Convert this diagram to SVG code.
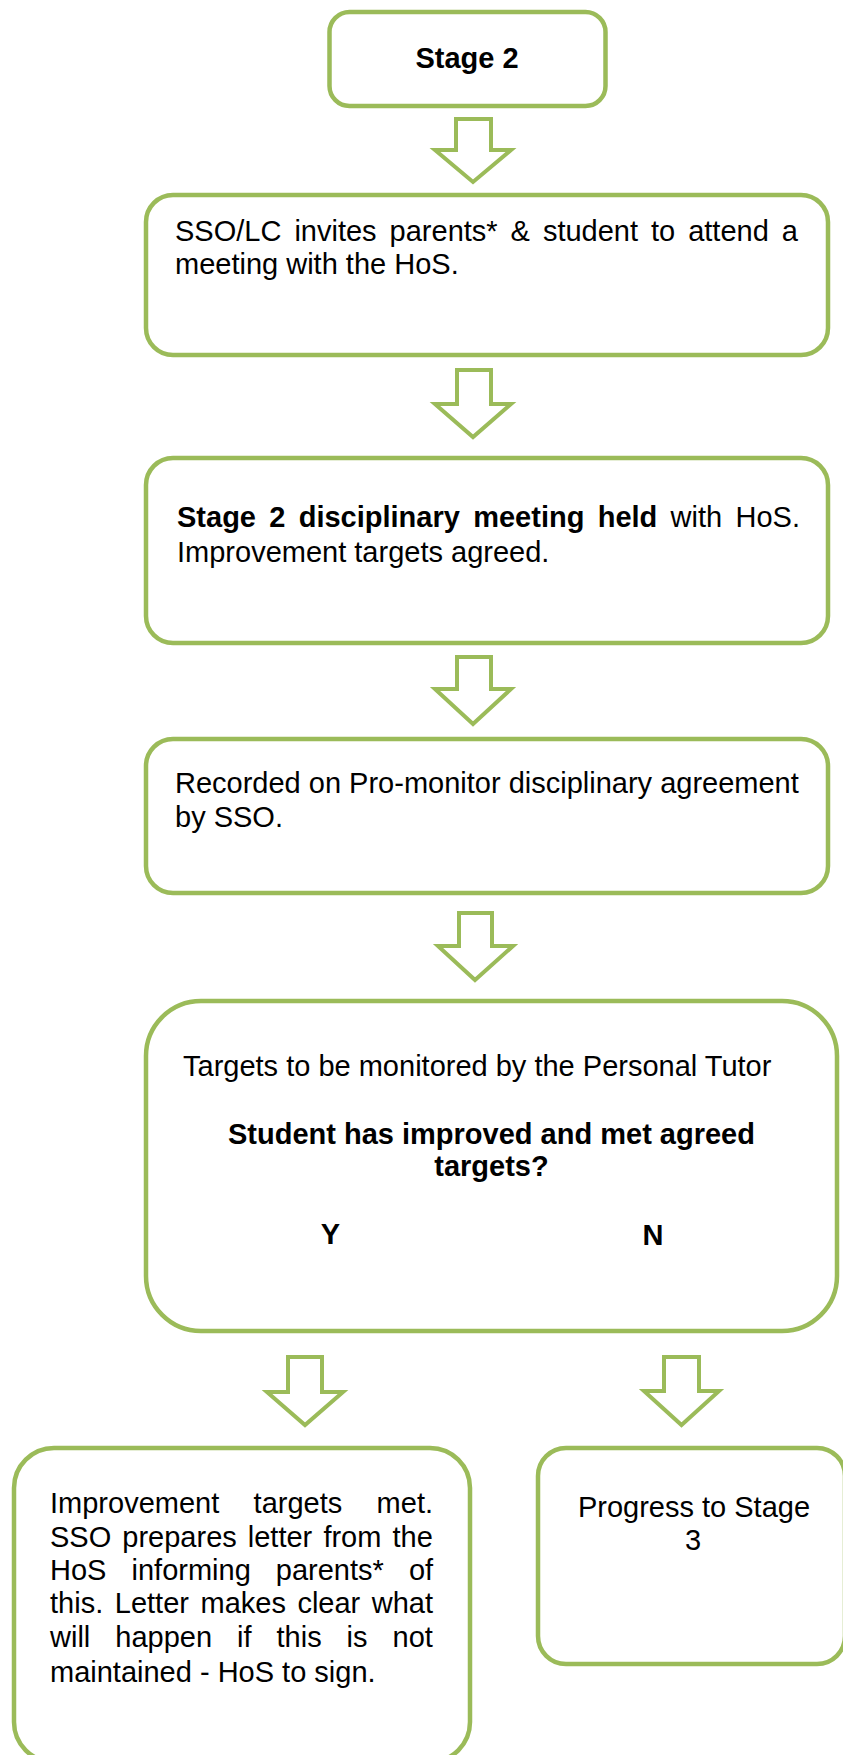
<svg xmlns="http://www.w3.org/2000/svg" width="843" height="1755" viewBox="0 0 843 1755">
<style>
.box{fill:#ffffff;stroke:#9BBB59;stroke-width:4.5}
.arrow{fill:#ffffff;stroke:#9BBB59;stroke-width:4;stroke-linejoin:miter}
text{font-family:"Liberation Sans",Arial,Helvetica,sans-serif;font-size:29px;fill:#000000}
.b{font-weight:bold}
.c{text-anchor:middle}
</style>
<rect width="843" height="1755" fill="#ffffff"/>
<g id="connectors">
<path class="arrow" d="M456,119 H491 V150 H511 L473,182 L435,150 H456 Z"/>
<path class="arrow" d="M457,370 H491 V404 H511 L473,437 L435,404 H457 Z"/>
<path class="arrow" d="M457,657 H491 V689 H511 L473,724 L435,689 H457 Z"/>
<path class="arrow" d="M459,913 H492 V946 H513 L475,980 L438,946 H459 Z"/>
<path class="arrow" d="M288,1357 H322 V1392 H343 L305,1425 L267,1392 H288 Z"/>
<path class="arrow" d="M664,1357 H699 V1391 H719 L681.5,1425 L644,1391 H664 Z"/>
</g>
<g id="stage2">
<rect class="box" x="329.5" y="12" width="276" height="94" rx="20"/>
<text class="b c" x="467" y="68">Stage 2</text>
</g>
<g id="invite">
<rect class="box" x="146" y="195" width="682" height="160" rx="27"/>
<text y="241"><tspan x="175">SSO/LC</tspan><tspan x="294.4">invites</tspan><tspan x="389.6">parents*</tspan><tspan x="510.6">&amp;</tspan><tspan x="542.9">student</tspan><tspan x="651">to</tspan><tspan x="688.2">attend</tspan><tspan x="781.8">a</tspan></text>
<text x="175" y="274">meeting with the HoS.</text>
</g>
<g id="meeting">
<rect class="box" x="146" y="458" width="682" height="185" rx="27"/>
<text y="527"><tspan class="b" x="177">Stage</tspan><tspan class="b" x="269.3">2</tspan><tspan class="b" x="298.7">disciplinary</tspan><tspan class="b" x="473.2">meeting</tspan><tspan class="b" x="597.7">held</tspan><tspan x="670.6">with</tspan><tspan x="735.5">HoS.</tspan></text>
<text x="177" y="562">Improvement targets agreed.</text>
</g>
<g id="recorded">
<rect class="box" x="146" y="739" width="682" height="154" rx="27"/>
<text x="175" y="793">Recorded on Pro-monitor disciplinary agreement</text>
<text x="175" y="827">by SSO.</text>
</g>
<g id="decision">
<rect class="box" x="146" y="1001" width="691" height="330" rx="55"/>
<text x="183" y="1076">Targets to be monitored by the Personal Tutor</text>
<text class="b c" x="491.5" y="1144">Student has improved and met agreed</text>
<text class="b c" x="491.5" y="1176">targets?</text>
<text class="b c" x="330.5" y="1244">Y</text>
<text class="b c" x="653" y="1245">N</text>
</g>
<g id="met">
<rect class="box" x="14" y="1448" width="456" height="314" rx="40"/>
<text y="1513"><tspan x="50">Improvement</tspan><tspan x="253.6">targets</tspan><tspan x="376.6">met.</tspan></text>
<text y="1547"><tspan x="50">SSO</tspan><tspan x="122.3">prepares</tspan><tspan x="247.8">letter</tspan><tspan x="323.4">from</tspan><tspan x="392.5">the</tspan></text>
<text y="1580"><tspan x="50">HoS</tspan><tspan x="131.5">informing</tspan><tspan x="275.8">parents*</tspan><tspan x="408.9">of</tspan></text>
<text y="1613"><tspan x="50">this.</tspan><tspan x="114.8">Letter</tspan><tspan x="200.5">makes</tspan><tspan x="297.4">clear</tspan><tspan x="371.8">what</tspan></text>
<text y="1647"><tspan x="50">will</tspan><tspan x="115.3">happen</tspan><tspan x="237">if</tspan><tspan x="276.5">this</tspan><tspan x="346.6">is</tspan><tspan x="392.5">not</tspan></text>
<text x="50" y="1682">maintained - HoS to sign.</text>
</g>
<g id="stage3">
<rect class="box" x="538" y="1448" width="307" height="216" rx="28"/>
<text class="c" x="694" y="1517">Progress to Stage</text>
<text class="c" x="693" y="1550">3</text>
</g>
</svg>
